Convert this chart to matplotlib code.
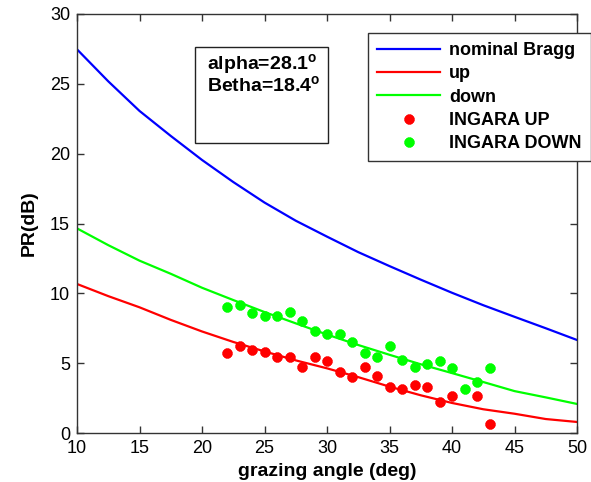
import matplotlib
matplotlib.use('Agg')
import matplotlib.pyplot as plt
from matplotlib.patches import Rectangle

plt.rcParams['font.family'] = ['Liberation Sans', 'DejaVu Sans']
plt.rcParams['mathtext.fontset'] = 'custom'
plt.rcParams['mathtext.bf'] = 'Liberation Sans:bold'

# model curves
angle = [10, 12.5, 15, 17.5, 20, 22.5, 25, 27.5, 30, 32.5, 35, 37.5, 40, 42.5, 45, 47.5, 50]
bragg = [27.47, 25.18, 23.06, 21.27, 19.55, 17.97, 16.5, 15.2, 14.06, 12.95, 11.95, 10.98, 10.04, 9.15, 8.32, 7.5, 6.66]
pr_up = [10.67, 9.8, 9.0, 8.1, 7.27, 6.52, 5.84, 5.2, 4.63, 4.0, 3.32, 2.7, 2.15, 1.7, 1.38, 1.0, 0.79]
pr_down = [14.65, 13.45, 12.34, 11.4, 10.4, 9.52, 8.66, 7.85, 7.05, 6.3, 5.6, 4.92, 4.29, 3.65, 3.0, 2.55, 2.08]

# INGARA measurements
up_ang = [22, 23, 24, 25, 26, 27, 28, 29, 30, 31, 32, 33, 34, 35, 36, 37, 38, 39, 40, 42, 43]
up_pr = [5.75, 6.25, 5.94, 5.78, 5.42, 5.42, 4.70, 5.42, 5.15, 4.39, 4.03, 4.75, 4.10, 3.27, 3.13, 3.44, 3.31, 2.24, 2.65, 2.65, 0.62]
dn_ang = [22, 23, 24, 25, 26, 27, 28, 29, 30, 31, 32, 33, 34, 35, 36, 37, 38, 39, 40, 41, 42, 43]
dn_pr = [9.04, 9.16, 8.57, 8.37, 8.37, 8.64, 8.0, 7.32, 7.09, 7.09, 6.54, 5.75, 5.46, 6.25, 5.23, 4.75, 4.94, 5.15, 4.63, 3.15, 3.63, 4.63]

W, H = 591, 482
fig = plt.figure(figsize=(W / 100, H / 100), dpi=100)
ax = fig.add_axes([77 / W, 1 - 433 / H, 500 / W, 419 / H])

ax.plot(angle, bragg, color='#0000ff', lw=1.6, label='nominal Bragg')
ax.plot(angle, pr_up, color='#ff0000', lw=1.6, label='up')
ax.plot(angle, pr_down, color='#00ff00', lw=1.6, label='down')
star = dict(ls='none', marker=(8, 2, 0), ms=7, mew=2.6)
ax.plot(up_ang, up_pr, color='#ff0000', label='INGARA UP', **star)
ax.plot(dn_ang, dn_pr, color='#00ff00', label='INGARA DOWN', **star)

ax.set_xlim(10, 50); ax.set_ylim(0, 30)
ax.set_xticks(range(10, 51, 5)); ax.set_yticks(range(0, 31, 5))
ax.tick_params(direction='in', top=True, right=True, length=5, width=1,
               labelsize=13, pad=5, color='#333333')
for s in ax.spines.values():
    s.set_color('#333333'); s.set_linewidth(1)
ax.set_xlabel('grazing angle (deg)', fontsize=14, fontweight='bold', labelpad=4)
ax.set_ylabel('PR(dB)', fontsize=14, fontweight='bold', labelpad=9)

leg = ax.legend(loc='upper left', bbox_to_anchor=(368 / W, 1 - 33 / H), bbox_transform=fig.transFigure,
                fancybox=False, framealpha=1, edgecolor='#333333', borderpad=0.5,
                handlelength=3.5, handletextpad=0.5, labelspacing=0.35,
                prop={'size': 13, 'weight': 'bold'}, borderaxespad=0)
leg.get_frame().set_linewidth(1)

# parameter box
fig.add_artist(Rectangle((195 / W, 1 - 143 / H), 133 / W, 96 / H, transform=fig.transFigure,
                         fill=False, edgecolor='#222222', lw=1))
fig.text(207 / W, 1 - 65 / H, r'alpha=28.1$^{\mathbf{o}}$', fontsize=14, fontweight='bold', va='center')
fig.text(207 / W, 1 - 86 / H, r'Betha=18.4$^{\mathbf{o}}$', fontsize=14, fontweight='bold', va='center')

fig.savefig('out.png', dpi=100)
